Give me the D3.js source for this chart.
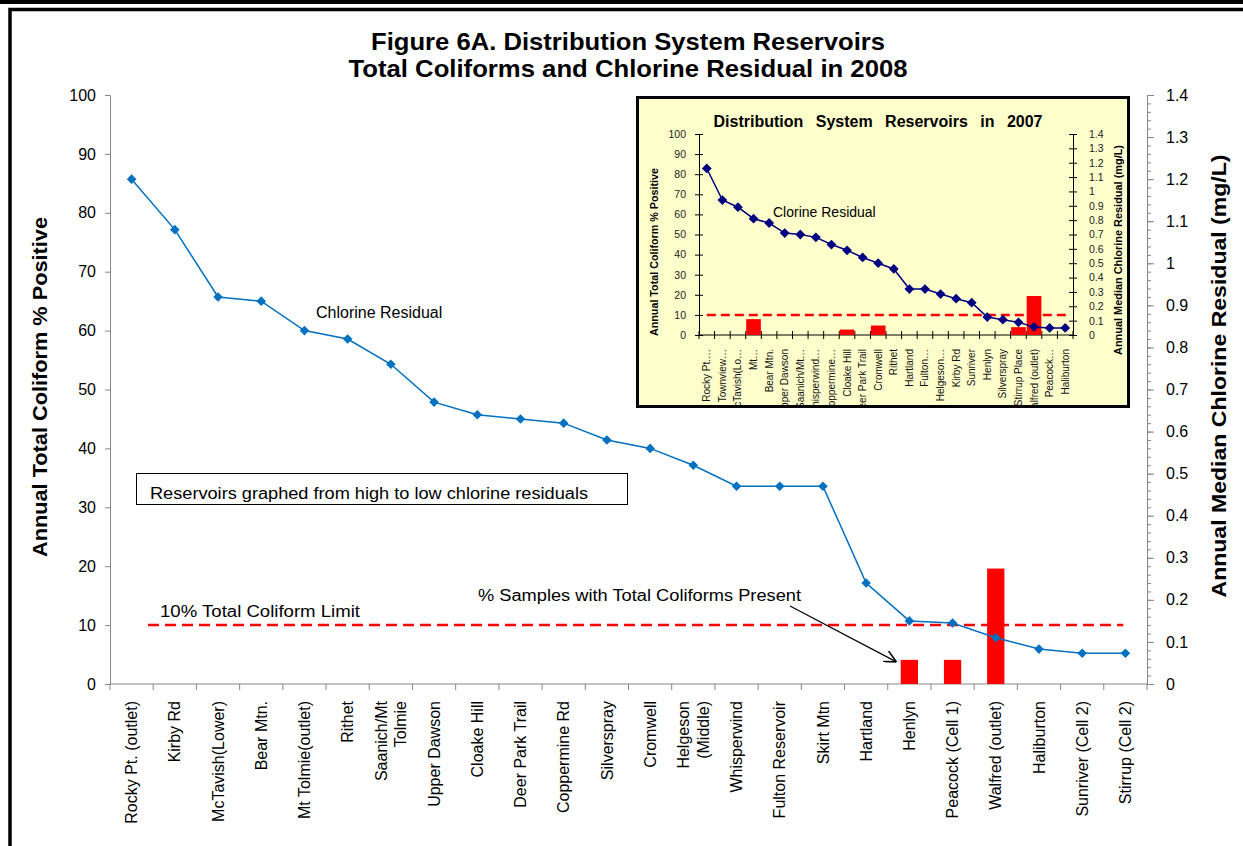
<!DOCTYPE html>
<html>
<head>
<meta charset="utf-8">
<script src="https://cdn.jsdelivr.net/npm/d3@7"></script>
<style>
  body { margin: 0; background: #fff; }
  svg { display: block; font-family: "Liberation Sans", Arial, sans-serif; }
</style>
</head>
<body>
<div id="chart"></div>
<script>
// 2008 data (main chart)
var reservoirs = ["Rocky Pt. (outlet)", "Kirby Rd", "McTavish(Lower)", "Bear Mtn.", "Mt Tolmie(outlet)",
  "Rithet", "Saanich/Mt\nTolmie", "Upper Dawson", "Cloake Hill", "Deer Park Trail", "Coppermine Rd",
  "Silverspray", "Cromwell", "Helgeson\n(Middle)", "Whisperwind", "Fulton Reservoir", "Skirt Mtn",
  "Hartland", "Henlyn", "Peacock (Cell 1)", "Walfred (outlet)", "Haliburton", "Sunriver (Cell 2)", "Stirrup (Cell 2)"];
var chlorine = [1.2, 1.08, 0.92, 0.91, 0.84, 0.82, 0.76, 0.67, 0.64, 0.63, 0.62, 0.58, 0.56, 0.52,
  0.47, 0.47, 0.47, 0.24, 0.15, 0.145, 0.11, 0.083, 0.073, 0.073];
var coliform = [0, 0, 0, 0, 0, 0, 0, 0, 0, 0, 0, 0, 0, 0, 0, 0, 0, 0, 4.1, 4.1, 19.6, 0, 0, 0];

// 2007 data (inset)
var reservoirs2007 = ["Rocky Pt.…", "Townview…", "McTavish(Lo…", "Mt…", "Bear Mtn.", "Upper Dawson",
  "Saanich/Mt…", "Whisperwind…", "Coppermine…", "Cloake Hill", "Deer Park Trail", "Cromwell", "Rithet",
  "Hartland", "Fulton…", "Helgeson…", "Kirby Rd", "Sunriver", "Henlyn", "Silverspray", "Stirrup Place",
  "Walfred (outlet)", "Peacock…", "Haliburton"];
var chlorine2007 = [1.16, 0.94, 0.89, 0.81, 0.78, 0.71, 0.70, 0.68, 0.63, 0.59, 0.54, 0.50, 0.46,
  0.32, 0.32, 0.285, 0.253, 0.225, 0.125, 0.107, 0.088, 0.056, 0.049, 0.049];
var coliform2007 = [0, 0, 0, 7.9, 0, 0, 0, 0, 0, 2.7, 0, 4.7, 0, 0, 0, 0, 0, 0, 0, 0, 3.9, 19.4, 0, 0];

var leftTicks = d3.range(0, 101, 10);
var rightTicks = d3.range(0, 15).map(function(i){ return i / 10; });
var rightMinor = d3.range(0, 71).map(function(i){ return i / 50; });
var coliformLimit = 10;

var w = 1243, h = 846;
var grey = "#868686";

var svg = d3.select("#chart").append("svg")
  .attr("width", w)
  .attr("height", h);
var defs = svg.append("defs");

// outer frame
svg.append("rect").attr("x", 0).attr("y", 0).attr("width", w).attr("height", 4).attr("fill", "#000");
svg.append("path").attr("d", "M10,846 V9.5 H1243")
  .attr("fill", "none").attr("stroke", "#000").attr("stroke-width", 3.5);

// title
var title = svg.append("g").attr("font-weight", "bold").attr("font-size", 24).attr("text-anchor", "middle");
title.append("text").attr("x", 628).attr("y", 50)
  .attr("textLength", 514).attr("lengthAdjust", "spacingAndGlyphs")
  .text("Figure 6A. Distribution System Reservoirs");
title.append("text").attr("x", 628).attr("y", 77)
  .attr("textLength", 559).attr("lengthAdjust", "spacingAndGlyphs")
  .text("Total Coliforms and Chlorine Residual in 2008");

// main scales
var x = d3.scaleBand().domain(d3.range(reservoirs.length)).range([110, 1147]);
var bw = x.bandwidth();
var yL = d3.scaleLinear().domain([0, 100]).range([684, 95]);
var yR = d3.scaleLinear().domain([0, 1.4]).range([684, 95]);

function styleAxis(g, size, color) {
  g.selectAll("path, line").attr("stroke", color);
  g.selectAll("text").attr("font-size", size).attr("fill", "#000")
    .attr("font-family", "'Liberation Sans', Arial, sans-serif");
}

// left axis
svg.append("g").attr("transform", "translate(110,0)")
  .call(d3.axisLeft(yL).tickValues(leftTicks).tickSize(5).tickSizeOuter(0).tickPadding(9))
  .call(styleAxis, 16, grey);

// right axis, minor then major ticks
svg.append("g").attr("transform", "translate(1147,0)")
  .call(d3.axisRight(yR).tickValues(rightMinor).tickSize(4).tickSizeOuter(0).tickFormat(""))
  .call(styleAxis, 16, grey);
svg.append("g").attr("transform", "translate(1147,0)")
  .call(d3.axisRight(yR).tickValues(rightTicks).tickSize(7).tickSizeOuter(0).tickPadding(12)
    .tickFormat(function(d){ return String(d); }))
  .call(styleAxis, 16, grey);

// x axis
var xEdges = d3.range(reservoirs.length + 1).map(function(i){
  return i < reservoirs.length ? x(i) : x(i - 1) + x.step();
});
svg.append("line").attr("x1", x.range()[0]).attr("x2", x.range()[1])
  .attr("y1", yL(0)).attr("y2", yL(0)).attr("stroke", grey);
svg.selectAll(".xtick").data(xEdges).enter().append("line")
  .attr("class", "xtick")
  .attr("x1", function(d){ return d; }).attr("x2", function(d){ return d; })
  .attr("y1", yL(0)).attr("y2", yL(0) + 6).attr("stroke", grey);

var xLabels = svg.selectAll(".xlabel").data(reservoirs).enter().append("text")
  .attr("class", "xlabel")
  .attr("font-size", 16)
  .attr("text-anchor", "end")
  .attr("transform", function(d, i){ return "translate(" + (x(i) + bw / 2) + ",701) rotate(-90)"; });
xLabels.each(function(d){
  var lines = d.split("\n");
  var t = d3.select(this);
  lines.forEach(function(l, j){
    t.append("tspan").attr("x", 0)
      .attr("dy", j === 0 ? (0.35 - (lines.length - 1) * 0.6) + "em" : "1.2em")
      .text(l);
  });
});

// bars
var barW = bw * 0.4;
svg.selectAll(".bar")
  .data(coliform.map(function(v, i){ return {v: v, i: i}; }).filter(function(d){ return d.v > 0; }))
  .enter().append("rect")
  .attr("class", "bar")
  .attr("x", function(d){ return x(d.i) + (bw - barW) / 2; })
  .attr("width", barW)
  .attr("y", function(d){ return yL(d.v); })
  .attr("height", function(d){ return yL(0) - yL(d.v); })
  .attr("fill", "#ff0000");

// 10% limit
svg.append("line")
  .attr("x1", x(0) + bw * 0.88).attr("x2", x(reservoirs.length - 1) + bw * 0.45)
  .attr("y1", yL(coliformLimit)).attr("y2", yL(coliformLimit))
  .attr("stroke", "#ff0000").attr("stroke-width", 2.5).attr("stroke-dasharray", "11,6");

// chlorine line
var line = d3.line()
  .x(function(d, i){ return x(i) + bw / 2; })
  .y(function(d){ return yR(d); });
svg.append("path").datum(chlorine)
  .attr("d", line).attr("fill", "none").attr("stroke", "#0070c0").attr("stroke-width", 1.5);
svg.selectAll(".mk").data(chlorine).enter().append("path")
  .attr("class", "mk")
  .attr("d", d3.symbol(d3.symbolSquare).size(46))
  .attr("transform", function(d, i){ return "translate(" + (x(i) + bw / 2) + "," + yR(d) + ") rotate(45)"; })
  .attr("fill", "#0070c0");

// axis titles
svg.append("text").attr("transform", "translate(47,387) rotate(-90)")
  .attr("text-anchor", "middle").attr("font-weight", "bold").attr("font-size", 20)
  .attr("textLength", 340).attr("lengthAdjust", "spacingAndGlyphs")
  .text("Annual Total Coliform % Positive");
svg.append("text").attr("transform", "translate(1226,376) rotate(-90)")
  .attr("text-anchor", "middle").attr("font-weight", "bold").attr("font-size", 20)
  .attr("textLength", 443).attr("lengthAdjust", "spacingAndGlyphs")
  .text("Annual Median Chlorine Residual (mg/L)");

// annotations
svg.append("text").attr("x", 316).attr("y", 318).attr("font-size", 16).text("Chlorine Residual");
svg.append("rect").attr("x", 136.5).attr("y", 473.5).attr("width", 491).attr("height", 31)
  .attr("fill", "#fff").attr("stroke", "#000").attr("stroke-width", 1);
svg.append("text").attr("x", 150).attr("y", 499).attr("font-size", 16)
  .attr("textLength", 438).attr("lengthAdjust", "spacingAndGlyphs")
  .text("Reservoirs graphed from high to low chlorine residuals");
svg.append("text").attr("x", 160).attr("y", 617).attr("font-size", 16)
  .attr("textLength", 200).attr("lengthAdjust", "spacingAndGlyphs")
  .text("10% Total Coliform Limit");
svg.append("text").attr("x", 478).attr("y", 601).attr("font-size", 16)
  .attr("textLength", 323).attr("lengthAdjust", "spacingAndGlyphs")
  .text("% Samples with Total Coliforms Present");

defs.append("marker")
  .attr("id", "arrow").attr("viewBox", "0 0 10 10").attr("refX", 10).attr("refY", 5)
  .attr("markerWidth", 12).attr("markerHeight", 12).attr("markerUnits", "userSpaceOnUse")
  .attr("orient", "auto")
  .append("path").attr("d", "M0,0 L10,5 L0,10").attr("fill", "none").attr("stroke", "#000").attr("stroke-width", 1.3);
svg.append("line").attr("x1", 790).attr("y1", 606)
  .attr("x2", x(18) + bw * 0.2).attr("y2", yL(coliform[18]) + 2)
  .attr("stroke", "#000").attr("stroke-width", 1.2).attr("marker-end", "url(#arrow)");

// ---------- inset: 2007 ----------
var inset = svg.append("g");
inset.append("rect").attr("x", 637.5).attr("y", 97.5).attr("width", 491).attr("height", 309)
  .attr("fill", "#ffffcc").attr("stroke", "#000").attr("stroke-width", 3);
defs.append("clipPath").attr("id", "insetClip")
  .append("rect").attr("x", 639).attr("y", 99).attr("width", 488).attr("height", 306);

inset.append("text").attr("x", 878).attr("y", 127).attr("text-anchor", "middle")
  .attr("font-weight", "bold").attr("font-size", 16).attr("word-spacing", 8)
  .text("Distribution System Reservoirs in 2007");

var xi = d3.scaleBand().domain(d3.range(reservoirs2007.length)).range([699, 1073]);
var bwi = xi.bandwidth();
var yLi = d3.scaleLinear().domain([0, 100]).range([335, 134]);
var yRi = d3.scaleLinear().domain([0, 1.4]).range([335, 134]);

inset.append("g").attr("transform", "translate(699,0)")
  .call(d3.axisLeft(yLi).tickValues(leftTicks).tickSize(4).tickSizeOuter(0).tickPadding(9))
  .call(styleAxis, 10.5, "#000")
  .call(function(g){ g.selectAll(".tick line").attr("x1", 4); g.selectAll("text").attr("fill", "#222"); });
inset.append("g").attr("transform", "translate(1073,0)")
  .call(d3.axisRight(yRi).tickValues(rightTicks).tickSize(4).tickSizeOuter(0).tickPadding(12)
    .tickFormat(function(d){ return String(d); }))
  .call(styleAxis, 10.5, "#000")
  .call(function(g){ g.selectAll(".tick line").attr("x1", -4); g.selectAll("text").attr("fill", "#222"); });

var xiEdges = d3.range(reservoirs2007.length + 1).map(function(i){
  return i < reservoirs2007.length ? xi(i) : xi(i - 1) + xi.step();
});
inset.append("line").attr("x1", xi.range()[0]).attr("x2", xi.range()[1])
  .attr("y1", yLi(0)).attr("y2", yLi(0)).attr("stroke", "#000");
inset.selectAll(".xitick").data(xiEdges).enter().append("line")
  .attr("class", "xitick")
  .attr("x1", function(d){ return d; }).attr("x2", function(d){ return d; })
  .attr("y1", yLi(0) - 4).attr("y2", yLi(0) + 4).attr("stroke", "#000");

inset.append("g").attr("clip-path", "url(#insetClip)")
  .selectAll("text").data(reservoirs2007).enter().append("text")
  .attr("font-size", 10).attr("fill", "#111")
  .attr("text-anchor", "end")
  .attr("dy", "0.35em")
  .attr("transform", function(d, i){ return "translate(" + (xi(i) + bwi / 2) + ",349) rotate(-90)"; })
  .text(function(d){ return d; });

var barWi = bwi * 0.94;
inset.selectAll(".ibar")
  .data(coliform2007.map(function(v, i){ return {v: v, i: i}; }).filter(function(d){ return d.v > 0; }))
  .enter().append("rect")
  .attr("class", "ibar")
  .attr("x", function(d){ return xi(d.i) + (bwi - barWi) / 2; })
  .attr("width", barWi)
  .attr("y", function(d){ return yLi(d.v); })
  .attr("height", function(d){ return yLi(0) - yLi(d.v); })
  .attr("fill", "#ff0000");

inset.append("line")
  .attr("x1", xi(0) + bwi * 0.5).attr("x2", xi(reservoirs2007.length - 1) + bwi * 0.6)
  .attr("y1", yLi(coliformLimit)).attr("y2", yLi(coliformLimit))
  .attr("stroke", "#ff0000").attr("stroke-width", 2.5).attr("stroke-dasharray", "9,5");

var linei = d3.line()
  .x(function(d, i){ return xi(i) + bwi / 2; })
  .y(function(d){ return yRi(d); });
inset.append("path").datum(chlorine2007)
  .attr("d", linei).attr("fill", "none").attr("stroke", "#000080").attr("stroke-width", 1.5);
inset.selectAll(".imk").data(chlorine2007).enter().append("path")
  .attr("class", "imk")
  .attr("d", d3.symbol(d3.symbolSquare).size(48))
  .attr("transform", function(d, i){ return "translate(" + (xi(i) + bwi / 2) + "," + yRi(d) + ") rotate(45)"; })
  .attr("fill", "#000080");

inset.append("text").attr("x", 773).attr("y", 217).attr("font-size", 14)
  .text("Clorine Residual");

inset.append("text").attr("transform", "translate(658,252) rotate(-90)")
  .attr("text-anchor", "middle").attr("font-weight", "bold").attr("font-size", 10)
  .attr("textLength", 168).attr("lengthAdjust", "spacingAndGlyphs")
  .text("Annual Total Coliform % Positive");
inset.append("text").attr("transform", "translate(1122,250) rotate(-90)")
  .attr("text-anchor", "middle").attr("font-weight", "bold").attr("font-size", 10)
  .attr("textLength", 210).attr("lengthAdjust", "spacingAndGlyphs")
  .text("Annual Median Chlorine Residual (mg/L)");
</script>
</body>
</html>
